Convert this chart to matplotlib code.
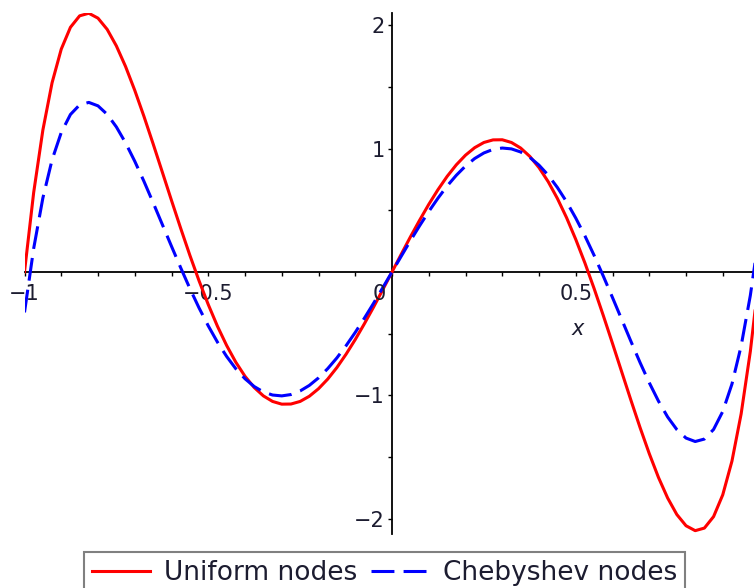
import matplotlib
matplotlib.use("Agg")
import matplotlib.pyplot as plt
import numpy as np

# Sample positions on [-1, 1]
x = np.linspace(-1, 1, 81)

# Interpolation error curves read at each sample position
uniform = [
    0.0, 0.645, 1.151, 1.534, 1.807, 1.984, 2.077, 2.098, 2.058, 1.967,
    1.833, 1.666, 1.473, 1.262, 1.039, 0.810, 0.580, 0.354, 0.135, -0.072,
    -0.264, -0.440, -0.596, -0.732, -0.846, -0.937, -1.005, -1.050, -1.072, -1.071,
    -1.050, -1.008, -0.947, -0.869, -0.775, -0.667, -0.548, -0.419, -0.284, -0.143,
    0.0, 0.143, 0.284, 0.419, 0.548, 0.667, 0.775, 0.869, 0.947, 1.008,
    1.050, 1.071, 1.072, 1.050, 1.005, 0.937, 0.846, 0.732, 0.596, 0.440,
    0.264, 0.072, -0.135, -0.354, -0.580, -0.810, -1.039, -1.262, -1.473, -1.666,
    -1.833, -1.967, -2.058, -2.098, -2.077, -1.984, -1.807, -1.534, -1.151, -0.645,
    0.0,
]
chebyshev = [
    -0.328, 0.191, 0.600, 0.909, 1.131, 1.277, 1.355, 1.375, 1.347, 1.278,
    1.176, 1.047, 0.898, 0.735, 0.562, 0.385, 0.208, 0.034, -0.134, -0.292,
    -0.437, -0.569, -0.685, -0.785, -0.866, -0.929, -0.973, -0.998, -1.005, -0.994,
    -0.965, -0.920, -0.859, -0.784, -0.697, -0.598, -0.490, -0.374, -0.253, -0.127,
    0.0, 0.127, 0.253, 0.374, 0.490, 0.598, 0.697, 0.784, 0.859, 0.920,
    0.965, 0.994, 1.005, 0.998, 0.973, 0.929, 0.866, 0.785, 0.685, 0.569,
    0.437, 0.292, 0.134, -0.034, -0.208, -0.385, -0.562, -0.735, -0.898, -1.047,
    -1.176, -1.278, -1.347, -1.375, -1.355, -1.277, -1.131, -0.909, -0.600, -0.191,
    0.328,
]

series_labels = ["Uniform nodes", "Chebyshev nodes"]
x_major = [-1, -0.5, 0, 0.5]
x_major_labels = ["\u22121", "\u22120.5", "", "0.5"]
x_minor = [-0.9, -0.8, -0.7, -0.6, -0.4, -0.3, -0.2, -0.1,
           0.1, 0.2, 0.3, 0.4, 0.6, 0.7, 0.8, 0.9]
y_major = [-2, -1, 1, 2]
y_major_labels = ["\u22122", "\u22121", "1", "2"]
y_minor = [-1.5, -0.5, 0.5, 1.5]

TEXT = "#1c1c30"
W, H = 754, 588
fig = plt.figure(figsize=(W / 100, H / 100), dpi=100)
ax = fig.add_axes([24.5 / W, 54 / H, (W - 24.5) / W, 521 / H])

ax.plot(x, uniform, color="#ff0000", lw=2.2, label=series_labels[0],
        solid_joinstyle="round")
ax.plot(x, chebyshev, color="#0000ff", lw=2.2, dashes=(7.5, 3),
        dash_capstyle="butt", label=series_labels[1])

ax.set_xlim(-1, 0.985)
ax.set_ylim(-2.125, 2.10)

for side in ("top", "right"):
    ax.spines[side].set_visible(False)
for side in ("left", "bottom"):
    ax.spines[side].set_position(("data", 0))
    ax.spines[side].set_linewidth(1.3)
    ax.spines[side].set_zorder(0.5)

ax.set_xticks(x_major)
ax.set_xticklabels(x_major_labels)
ax.set_xticks(x_minor, minor=True)
ax.set_yticks(y_major)
ax.set_yticklabels(y_major_labels)
ax.set_yticks(y_minor, minor=True)

ax.tick_params(axis="x", which="both", direction="out", length=3, width=1,
               pad=6, labelsize=15, labelcolor=TEXT)
ax.tick_params(axis="y", which="both", direction="out", length=3, width=1,
               pad=2, labelsize=15, labelcolor=TEXT)

# origin label, set off to the left of the vertical axis
ax.annotate("0", xy=(0, 0), xytext=(-9.4, -9), textcoords="offset points",
            ha="center", va="top", fontsize=15, color=TEXT)
ax.text(0.506, -0.462, "x", style="italic", fontsize=15, color=TEXT,
        ha="center", va="center")

leg = fig.legend(loc="upper left", bbox_to_anchor=(84 / W, 1 - 552 / H),
                 ncol=2, fontsize=19, frameon=True, fancybox=False,
                 edgecolor="#808080", framealpha=1, handlelength=2.2,
                 handletextpad=0.53, columnspacing=0.53, borderpad=0.3,
                 borderaxespad=0, labelcolor=TEXT)
leg.get_frame().set_linewidth(1.5)

fig.savefig("out.png", dpi=100)
